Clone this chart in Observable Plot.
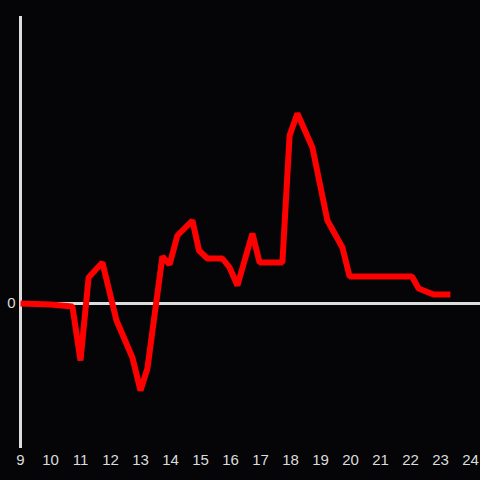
<!DOCTYPE html>
<html>
<head>
<meta charset="utf-8">
<script src="https://cdn.jsdelivr.net/npm/d3@7"></script>
<script src="https://cdn.jsdelivr.net/npm/@observablehq/plot@0.6"></script>
<style>
  html, body { margin: 0; padding: 0; background: #050508; }
</style>
</head>
<body>
<div id="chart"></div>
<script>
const hours = [9, 10, 10.73, 11.0, 11.27, 11.73, 12.2, 12.73, 13.0, 13.23, 13.73, 13.97, 14.23, 14.73, 14.95, 15.23, 15.73, 15.97, 16.23, 16.73, 16.97, 17.73, 17.97, 18.23, 18.73, 19.23, 19.73, 19.97, 22.05, 22.27, 22.77, 23.33];
const values = [0, -0.1, -0.3, -5.7, 2.6, 4.1, -1.7, -5.4, -8.7, -6.5, 4.7, 3.9, 6.8, 8.3, 5.3, 4.5, 4.5, 3.6, 1.8, 7.0, 4.1, 4.1, 16.8, 19.0, 15.6, 8.3, 5.6, 2.7, 2.7, 1.5, 0.9, 0.9];
const xTicks = [9, 10, 11, 12, 13, 14, 15, 16, 17, 18, 19, 20, 21, 22, 23, 24];
const yTicks = [0];

const data = hours.map((h, i) => ({h, v: values[i]}));

const chart = Plot.plot({
  width: 480,
  height: 480,
  marginTop: 16,
  marginBottom: 32,
  marginLeft: 20,
  marginRight: 0,
  style: {background: "#050508", color: "#dddddd", fontFamily: "Liberation Sans, Arial, sans-serif", fontSize: "15px"},
  x: {domain: [9, 24.333], ticks: xTicks},
  y: {domain: [-14.5, 28.7], ticks: yTicks},
  marks: [
    Plot.axisX({ticks: xTicks, tickSize: 0, tickPadding: 6, tickFormat: d => String(d), fill: "#dcdcdc", fontSize: 15, label: null}),
    Plot.axisY({ticks: yTicks, tickSize: 0, tickPadding: 5, tickFormat: d => String(d), fill: "#dcdcdc", fontSize: 15, label: null}),
    Plot.ruleY(yTicks, {stroke: "#dddddd", strokeWidth: 3, strokeOpacity: 1}),
    Plot.ruleX([9], {stroke: "#dddddd", strokeWidth: 3, strokeOpacity: 1}),
    Plot.line(data, {x: "h", y: "v", stroke: "#ff0000", strokeWidth: 6, strokeLinejoin: "miter", strokeLinecap: "butt", curve: "linear"})
  ]
});
d3.select(chart).selectAll("text")
  .attr("font-size", 15)
  .style("font-size", "15px")
  .style("font-family", "'Liberation Sans', Arial, sans-serif");
document.getElementById("chart").appendChild(chart);
</script>
</body>
</html>
